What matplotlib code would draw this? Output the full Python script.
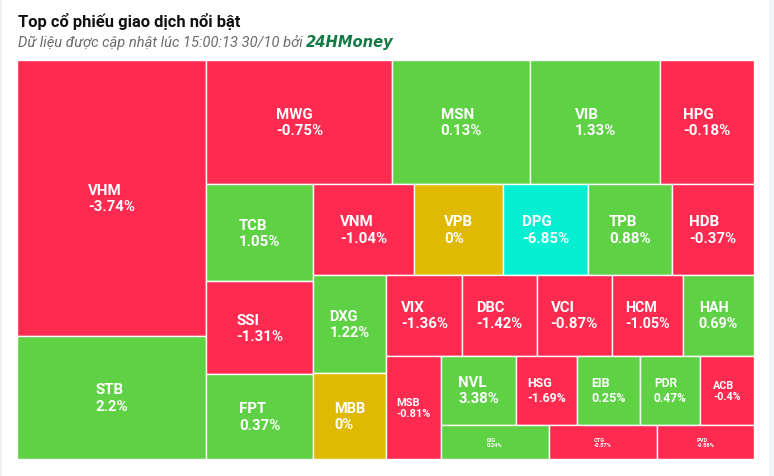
import matplotlib
matplotlib.use("Agg")
import matplotlib.pyplot as plt
from matplotlib.patches import Rectangle

# Top co phieu - thu tu nhu tren bieu do
tickers = ["VHM", "STB", "MWG", "MSN", "VIB", "HPG", "TCB", "SSI", "FPT", "VNM",
           "VPB", "DPG", "TPB", "HDB", "DXG", "MBB", "VIX", "DBC", "VCI", "HCM",
           "HAH", "MSB", "NVL", "HSG", "EIB", "PDR", "ACB", "DIG", "CTG", "PVD"]
# gia tri giao dich (uoc luong tu dien tich o)
gia_tri = [521.6, 232.5, 230.6, 171.1, 161.2, 116.6, 102.8, 98.6, 90.1, 90.9,
           80.1, 76.5, 75.6, 73.8, 72.3, 62.8, 61.6, 59.9, 60.8, 57.5,
           57.5, 56.7, 51.5, 42.8, 43.5, 41.4, 37.3, 36.4, 36.7, 33.0]
# % thay doi gia
thay_doi = [-3.74, 2.2, -0.75, 0.13, 1.33, -0.18, 1.05, -1.31, 0.37, -1.04,
            0, -6.85, 0.88, -0.37, 1.22, 0, -1.36, -1.42, -0.87, -1.05,
            0.69, -0.81, 3.38, -1.69, 0.25, 0.47, -0.4, 0.24, -0.57, -0.58]

RED = "#FF2A4F"
GREEN = "#5ED244"
YELLOW = "#E0B903"
CYAN = "#06EFD2"

DPI = 100
W_PX, H_PX = 774, 477
# vung ve treemap (pixel)
X0, Y0, X1, Y1 = 17, 61, 754, 460


def mau(p):
    if p <= -6.5:
        return CYAN
    if p > 0:
        return GREEN
    if p < 0:
        return RED
    return YELLOW


def aspect(a, b):
    return max(a / b, b / a)


def squarified(values, width, height):
    # squarified, doi huong sau moi nhom (kieu highcharts)
    total_val = sum(values)
    n = len(values)
    rects = []
    g = {"w": width, "h": height, "dir": 0, "tot": 0.0, "nW": 0.0, "lW": 0.0,
         "nH": 0.0, "lH": 0.0, "els": [], "lR": float("nan"), "nR": float("nan")}
    cur = {"x": 0.0, "y": 0.0}

    def add(el):
        last = g["els"][-1] if g["els"] else None
        g["tot"] += el
        lR = nR = float("nan")
        if g["dir"] == 0:
            g["lW"] = g["nW"]
            g["nW"] = g["tot"] / g["h"]
            if last is not None:
                lR = aspect(g["lW"], last / g["lW"])
                nR = aspect(g["nW"], last / g["nW"])
        else:
            g["lH"] = g["nH"]
            g["nH"] = g["tot"] / g["w"]
            if last is not None:
                lR = aspect(last / g["lH"], g["lH"])
                nR = aspect(last / g["nH"], g["nH"])
        g["lR"], g["nR"] = lR, nR
        g["els"].append(el)

    def place(final):
        if final:
            gw, gh = g["nW"], g["nH"]
            items, keep = g["els"], None
        else:
            gw, gh = g["lW"], g["lH"]
            items, keep = g["els"][:-1], g["els"][-1]
        for a in items:
            if g["dir"] == 0:
                rects.append((cur["x"], cur["y"], gw, a / gw))
                cur["y"] += a / gw
            else:
                rects.append((cur["x"], cur["y"], a / gh, gh))
                cur["x"] += a / gh
        g["els"], g["tot"], g["nW"], g["lW"] = [], 0.0, 0.0, 0.0
        if g["dir"] == 0:
            g["w"] -= gw
        else:
            g["h"] -= gh
        cur["y"] = height - g["h"]
        cur["x"] = width - g["w"]
        g["dir"] = 1 - g["dir"]
        if keep is not None:
            add(keep)

    for i, v in enumerate(values):
        add(width * height * v / total_val)
        if g["nR"] > g["lR"]:
            place(False)
        if i == n - 1:
            place(True)
    return rects


def co_chu(w, h):
    # co chu (pixel) theo kich thuoc o
    if h < 40:
        return 5.8
    return min(15.0, 0.2 * w)


fig = plt.figure(figsize=(W_PX / DPI, H_PX / DPI), dpi=DPI)
fig.patch.set_facecolor("white")
fig.patches.append(Rectangle((769 / W_PX, 0), 5 / W_PX, 1, transform=fig.transFigure,
                             facecolor="#F3F4F6", edgecolor="none"))
fig.patches.append(Rectangle((0, 0), 1.5 / W_PX, 1, transform=fig.transFigure,
                             facecolor="#F0F0F0", edgecolor="none"))

bw, bh = X1 - X0, Y1 - Y0
ax = fig.add_axes([X0 / W_PX, 1 - Y1 / H_PX, bw / W_PX, bh / H_PX])
ax.set_xlim(0, bw)
ax.set_ylim(bh, 0)
ax.axis("off")

rects = squarified(gia_tri, bw, bh)
for (x, y, w, h), t, p in zip(rects, tickers, thay_doi):
    ax.add_patch(Rectangle((x, y), w, h, facecolor=mau(p), edgecolor="white", linewidth=1.0))
    fs = co_chu(w, h) * 72 / DPI
    ax.text(x + w / 2, y + h / 2, f"{t}\n{p:g}%", ha="center", va="center",
            multialignment="left", color="white", fontweight="bold",
            fontsize=fs, family="Roboto", linespacing=1.2)

fig.text(18 / W_PX, 1 - 27 / H_PX, "Top cổ phiếu giao dịch nổi bật", fontsize=11.9,
         fontweight="bold", color="#111111", family="Roboto", va="baseline")
sub = fig.text(18 / W_PX, 1 - 47 / H_PX, "Dữ liệu được cập nhật lúc 15:00:13 30/10 bởi ",
               fontsize=10.5, fontstyle="italic", color="#6B6B6B", family="Roboto",
               va="baseline")
fig.canvas.draw()
bb = sub.get_window_extent()
fig.text(bb.x1 / W_PX, 1 - 47 / H_PX, "24HMoney", fontsize=10.6, fontstyle="italic",
         fontweight="bold", color="#137A45", family="DejaVu Sans", va="baseline")

fig.savefig("out.png", dpi=DPI, facecolor=fig.get_facecolor())
